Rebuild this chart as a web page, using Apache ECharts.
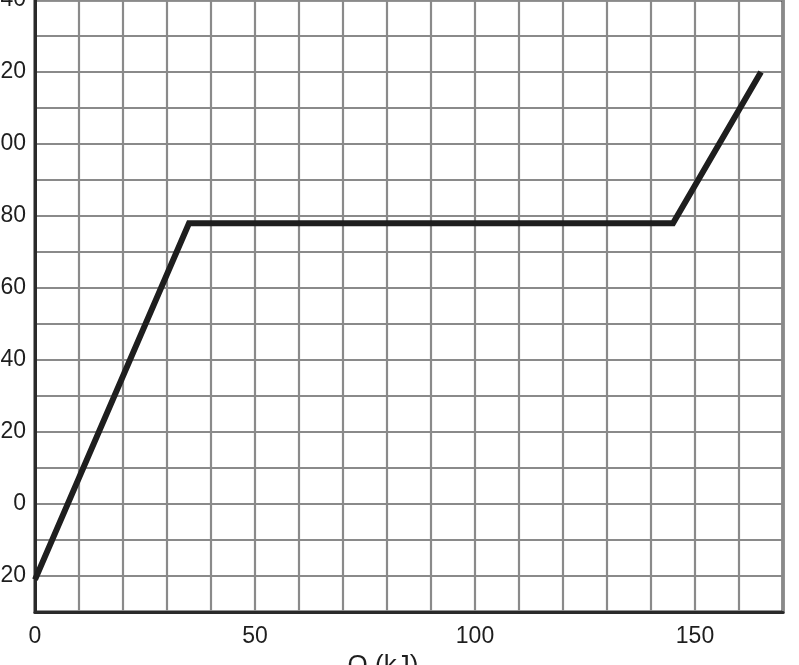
<!DOCTYPE html>
<html>
<head>
<meta charset="utf-8">
<script src="https://cdn.jsdelivr.net/npm/echarts@6/dist/echarts.min.js"></script>
<style>
  html, body { margin: 0; padding: 0; background: #fff; }
  #chart { width: 799px; height: 665px; }
</style>
</head>
<body>
<div id="chart"></div>
<script>
// Heating curve: heat added Q (kJ) vs temperature
const qValues = [0, 35, 145, 165];
const tempValues = [-21, 78, 78, 120];
const xTickLabels = [0, 50, 100, 150];
const yTickLabels = [-20, 0, 20, 40, 60, 80, 100, 120, 140];
const xAxisTitle = 'Q (kJ)';

const seriesData = qValues.map((q, i) => [q, tempValues[i]]);

const chart = echarts.init(document.getElementById('chart'), null, { renderer: 'canvas' });
chart.setOption({
  animation: false,
  backgroundColor: '#ffffff',
  textStyle: { fontFamily: 'Liberation Sans, Arial, sans-serif' },
  grid: {
    left: 35, right: 16, top: 0, bottom: 53,
    containLabel: false, outerBoundsMode: 'none',
    show: true, borderColor: '#2a2a2a', borderWidth: 3, backgroundColor: 'transparent'
  },
  xAxis: {
    type: 'value', min: 0, max: 170, interval: 10,
    name: xAxisTitle, nameLocation: 'middle', nameGap: 36,
    nameTextStyle: { fontSize: 26, color: '#1e1e1e', padding: [0, 52, 0, 0] },
    axisLine: { show: true, onZero: false, lineStyle: { color: '#2a2a2a', width: 3 } },
    axisTick: { show: false },
    splitLine: { show: true, lineStyle: { color: '#8a8a8a', width: 2.2 } },
    axisLabel: {
      fontSize: 23, color: '#1e1e1e', margin: 13,
      formatter: v => xTickLabels.includes(v) ? String(v) : ''
    }
  },
  yAxis: {
    type: 'value', min: -30, max: 140, interval: 10,
    axisLine: { show: true, onZero: false, lineStyle: { color: '#2a2a2a', width: 3 } },
    axisTick: { show: false },
    splitLine: { show: true, lineStyle: { color: '#8a8a8a', width: 2.2 } },
    axisLabel: {
      fontSize: 23, color: '#1e1e1e', margin: 9,
      formatter: v => yTickLabels.includes(v) ? String(v) : ''
    }
  },
  series: [{
    type: 'line',
    data: seriesData,
    symbol: 'none',
    lineStyle: { color: '#1e1e1e', width: 6, cap: 'butt', join: 'miter' },
    z: 10
  }]
});
</script>
</body>
</html>
